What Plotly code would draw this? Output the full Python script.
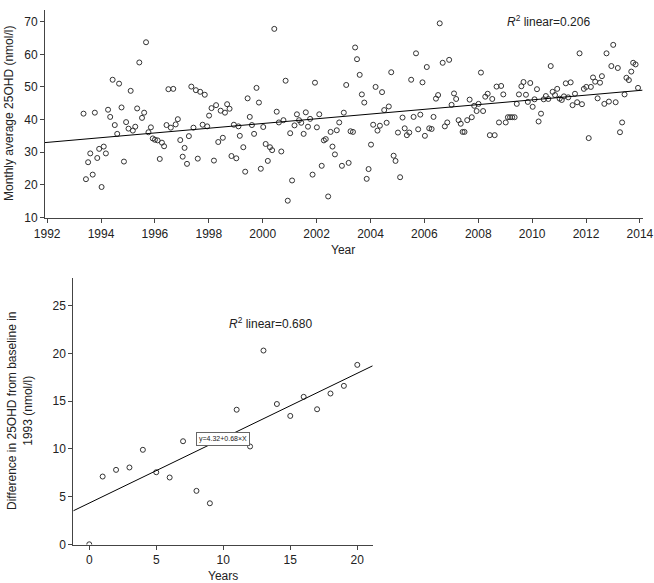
import numpy as np
import plotly.graph_objects as go

# ---- Top panel: monthly average 25OHD (nmol/l) ----
top_year = [
    1993.35, 1993.44, 1993.52, 1993.60, 1993.69, 1993.77, 1993.86, 1993.93, 1994.02, 1994.10,
    1994.18, 1994.26, 1994.34, 1994.43, 1994.51, 1994.60, 1994.67, 1994.76, 1994.85, 1994.93,
    1995.02, 1995.10, 1995.18, 1995.27, 1995.34, 1995.42, 1995.52, 1995.60, 1995.67, 1995.76,
    1995.85, 1995.92, 1996.00, 1996.10, 1996.18, 1996.26, 1996.34, 1996.43, 1996.50, 1996.59,
    1996.68, 1996.77, 1996.85, 1996.94, 1997.03, 1997.10, 1997.19, 1997.26, 1997.35, 1997.43,
    1997.52, 1997.59, 1997.68, 1997.77, 1997.85, 1997.94, 1998.01, 1998.10, 1998.19, 1998.27,
    1998.35, 1998.44, 1998.52, 1998.60, 1998.68, 1998.77, 1998.84, 1998.93, 1999.02, 1999.10,
    1999.15, 1999.28, 1999.35, 1999.44, 1999.52, 1999.60, 1999.68, 1999.77, 1999.86, 1999.93,
    2000.02, 2000.11, 2000.19, 2000.27, 2000.35, 2000.43, 2000.52, 2000.60, 2000.69, 2000.77,
    2000.85, 2000.93, 2001.02, 2001.09, 2001.18, 2001.27, 2001.35, 2001.43, 2001.52, 2001.60,
    2001.68, 2001.76, 2001.85, 2001.94, 2002.01, 2002.10, 2002.19, 2002.27, 2002.34, 2002.43,
    2002.52, 2002.59, 2002.68, 2002.75, 2002.84, 2002.94, 2003.01, 2003.10, 2003.19, 2003.26,
    2003.35, 2003.43, 2003.50, 2003.60, 2003.68, 2003.77, 2003.86, 2003.93, 2004.02, 2004.10,
    2004.19, 2004.26, 2004.35, 2004.43, 2004.51, 2004.60, 2004.68, 2004.77, 2004.86, 2004.93,
    2005.02, 2005.10, 2005.19, 2005.27, 2005.35, 2005.44, 2005.51, 2005.60, 2005.69, 2005.77,
    2005.85, 2005.93, 2006.02, 2006.09, 2006.18, 2006.27, 2006.34, 2006.43, 2006.51, 2006.57,
    2006.68, 2006.76, 2006.85, 2006.92, 2007.01, 2007.10, 2007.18, 2007.27, 2007.35, 2007.42,
    2007.49, 2007.59, 2007.68, 2007.76, 2007.85, 2007.94, 2008.01, 2008.10, 2008.18, 2008.26,
    2008.35, 2008.43, 2008.52, 2008.61, 2008.68, 2008.77, 2008.85, 2008.93, 2009.02, 2009.10,
    2009.18, 2009.26, 2009.35, 2009.43, 2009.51, 2009.60, 2009.68, 2009.77, 2009.84, 2009.93,
    2010.02, 2010.09, 2010.18, 2010.24, 2010.33, 2010.43, 2010.51, 2010.60, 2010.69, 2010.76,
    2010.85, 2010.93, 2011.02, 2011.10, 2011.18, 2011.25, 2011.34, 2011.43, 2011.50, 2011.59,
    2011.67, 2011.76, 2011.85, 2011.92, 2012.01, 2012.10, 2012.18, 2012.26, 2012.34, 2012.43,
    2012.52, 2012.59, 2012.68, 2012.76, 2012.85, 2012.94, 2013.01, 2013.10, 2013.18, 2013.26,
    2013.34, 2013.43, 2013.50, 2013.59, 2013.68, 2013.75, 2013.84, 2013.93,
]
top_value = [
    41.8, 21.7, 26.9, 29.6, 23.1, 42.1, 28.2, 31.0, 19.3, 31.7,
    29.6, 43.0, 40.8, 52.2, 38.3, 35.6, 51.0, 43.7, 27.1, 39.2,
    37.2, 48.8, 36.6, 37.8, 43.4, 57.5, 40.5, 42.1, 63.7, 36.1,
    37.6, 34.2, 33.8, 33.6, 27.9, 32.9, 31.8, 38.3, 49.3, 37.5,
    49.4, 38.5, 40.1, 33.7, 28.6, 31.3, 26.4, 34.9, 50.1, 37.5,
    49.0, 28.0, 48.5, 38.4, 47.6, 37.9, 41.2, 43.5, 27.4, 44.4,
    33.1, 42.7, 34.4, 42.1, 44.7, 43.3, 28.8, 38.4, 28.1, 37.9,
    35.0, 31.5, 24.0, 46.5, 40.8, 38.3, 35.6, 49.7, 45.2, 24.9,
    37.7, 32.5, 27.3, 31.5, 30.6, 67.8, 42.4, 39.1, 30.2, 39.8,
    51.9, 15.1, 35.8, 21.3, 38.2, 41.6, 39.8, 39.0, 35.6, 42.2,
    37.8, 40.2, 23.1, 51.3, 37.6, 41.6, 25.8, 33.6, 34.0, 16.4,
    36.2, 31.7, 29.3, 36.7, 39.1, 25.8, 42.1, 50.6, 26.7, 36.4,
    36.2, 62.1, 58.5, 53.7, 47.7, 45.2, 21.8, 24.8, 32.3, 38.4,
    50.0, 36.6, 38.1, 48.4, 42.9, 39.0, 44.0, 54.5, 28.9, 27.3,
    36.0, 22.3, 40.6, 37.3, 35.2, 36.0, 52.2, 40.8, 60.3, 37.0,
    41.5, 51.4, 35.0, 56.1, 37.3, 37.1, 40.8, 46.4, 47.5, 69.5,
    57.4, 37.9, 39.1, 58.3, 44.5, 48.0, 46.3, 39.8, 38.7, 36.2,
    36.2, 39.8, 46.1, 40.7, 44.2, 42.6, 44.8, 54.4, 42.6, 47.0,
    47.9, 35.2, 46.3, 35.2, 50.1, 39.1, 50.3, 47.7, 39.1, 40.7,
    40.7, 40.7, 40.7, 44.8, 47.7, 50.2, 51.5, 47.6, 45.4, 51.2,
    43.9, 46.2, 49.3, 39.4, 41.8, 46.2, 47.2, 46.3, 56.4, 48.5,
    47.5, 49.4, 46.4, 46.0, 47.1, 51.1, 46.8, 51.4, 44.4, 47.9,
    45.3, 60.3, 44.7, 49.4, 50.0, 34.3, 50.0, 52.9, 51.6, 46.5,
    51.3, 53.3, 44.8, 60.3, 45.5, 56.4, 62.9, 45.3, 55.8, 36.1,
    39.1, 47.7, 52.8, 52.1, 54.7, 57.4, 56.9, 49.7,
]
top_xticks = list(range(1992, 2015, 2))
top_yticks = [10, 20, 30, 40, 50, 60, 70]
top_xrange = [1991.92, 2014.1]
top_yrange = [9.7, 73.5]

# ---- Bottom panel: difference from 1993 baseline ----
diff_years = [0, 1, 2, 3, 4, 5, 6, 7, 8, 9, 11, 12, 13, 14, 15, 16, 17, 18, 19, 20]
diff_values = [0.0, 7.1, 7.8, 8.05, 9.9, 7.55, 7.0, 10.8, 5.6, 4.3,
               14.1, 10.25, 20.3, 14.7, 13.45, 15.45, 14.15, 15.8, 16.6, 18.8]
diff_fit = [4.32, 0.68]  # intercept, slope (from the chart's equation label)
bot_xticks = [0, 5, 10, 15, 20]
bot_yticks = [0, 5, 10, 15, 20, 25]
bot_xrange = [-1.19, 21.15]
bot_yrange = [-0.02, 27.9]

W, H = 654, 583
FONT = "Liberation Sans, Arial, Helvetica, sans-serif"
AX = "#444444"
MK = "#333333"

def px(x):
    return x / W

def py(y):
    return 1 - y / H

fig = go.Figure()

# top scatter + fitted line
slope, intercept = np.polyfit(top_year, top_value, 1)
fit_x = np.array(top_xrange)
fig.add_trace(go.Scatter(x=top_year, y=top_value, mode="markers",
                         marker=dict(symbol="circle-open", size=5, color=MK, line=dict(width=1, color=MK)),
                         xaxis="x", yaxis="y", showlegend=False, hoverinfo="x+y"))
fig.add_trace(go.Scatter(x=fit_x, y=intercept + slope * fit_x, mode="lines",
                         line=dict(color="black", width=1), xaxis="x", yaxis="y",
                         showlegend=False, hoverinfo="skip"))

# bottom scatter + fitted line
bx = np.array(bot_xrange)
fig.add_trace(go.Scatter(x=diff_years, y=diff_values, mode="markers",
                         marker=dict(symbol="circle-open", size=5, color=MK, line=dict(width=1, color=MK)),
                         xaxis="x2", yaxis="y2", showlegend=False, hoverinfo="x+y"))
fig.add_trace(go.Scatter(x=bx, y=diff_fit[0] + diff_fit[1] * bx, mode="lines",
                         line=dict(color="black", width=1), xaxis="x2", yaxis="y2",
                         showlegend=False, hoverinfo="skip"))

axis_common = dict(showline=True, linecolor=AX, linewidth=1, ticks="outside", ticklen=4,
                   tickcolor=AX, tickwidth=1, showgrid=False, zeroline=False, automargin=False,
                   tickfont=dict(family=FONT, size=12, color="#222222"))

fig.update_layout(
    template="none",
    width=W, height=H,
    margin=dict(l=0, r=0, t=0, b=0, pad=0),
    paper_bgcolor="white", plot_bgcolor="white",
    font=dict(family=FONT, size=12, color="#222222"),
    xaxis=dict(domain=[px(45), px(642.6)], range=top_xrange, tickvals=top_xticks,
               anchor="y", **axis_common),
    yaxis=dict(domain=[py(218.3), py(10.3)], range=top_yrange, tickvals=top_yticks,
               anchor="x", **axis_common),
    xaxis2=dict(domain=[px(73.3), px(372.7)], range=bot_xrange, tickvals=bot_xticks,
                anchor="y2", **axis_common),
    yaxis2=dict(domain=[py(544.5), py(278)], range=bot_yrange, tickvals=bot_yticks,
                anchor="x2", **axis_common),
    annotations=[
        dict(text="Year", x=px(343), y=py(250), xref="paper", yref="paper",
             showarrow=False, font=dict(size=12), xanchor="center", yanchor="middle"),
        dict(text="Years", x=px(223), y=py(576), xref="paper", yref="paper",
             showarrow=False, font=dict(size=12), xanchor="center", yanchor="middle"),
        dict(text="Monthly average 25OHD (nmol/l)", x=px(9), y=py(114), xref="paper", yref="paper",
             showarrow=False, textangle=-90, font=dict(size=12), xanchor="center", yanchor="middle"),
        dict(text="Difference in 25OHD from baseline in<br>1993 (nmol/l)", x=px(20), y=py(411),
             xref="paper", yref="paper", showarrow=False, textangle=-90, align="center",
             font=dict(size=12), xanchor="center", yanchor="middle"),
        dict(text="<i>R</i><sup>2</sup> linear=0.206", x=2010.6, y=70.1, xref="x", yref="y",
             showarrow=False, font=dict(size=12), xanchor="center", yanchor="middle"),
        dict(text="<i>R</i><sup>2</sup> linear=0.680", x=13.5, y=23.2, xref="x2", yref="y2",
             showarrow=False, font=dict(size=12), xanchor="center", yanchor="middle"),
        dict(text="y=4.32+0.68×X", x=10.0, y=11.0, xref="x2", yref="y2",
             showarrow=False, font=dict(size=7), xanchor="center", yanchor="middle",
             bgcolor="white", bordercolor="#666666", borderwidth=1, borderpad=2),
    ],
)

fig.write_html("out.html", config={"displayModeBar": False},
               post_script="document.body.style.margin='0';document.body.style.overflow='hidden';")
